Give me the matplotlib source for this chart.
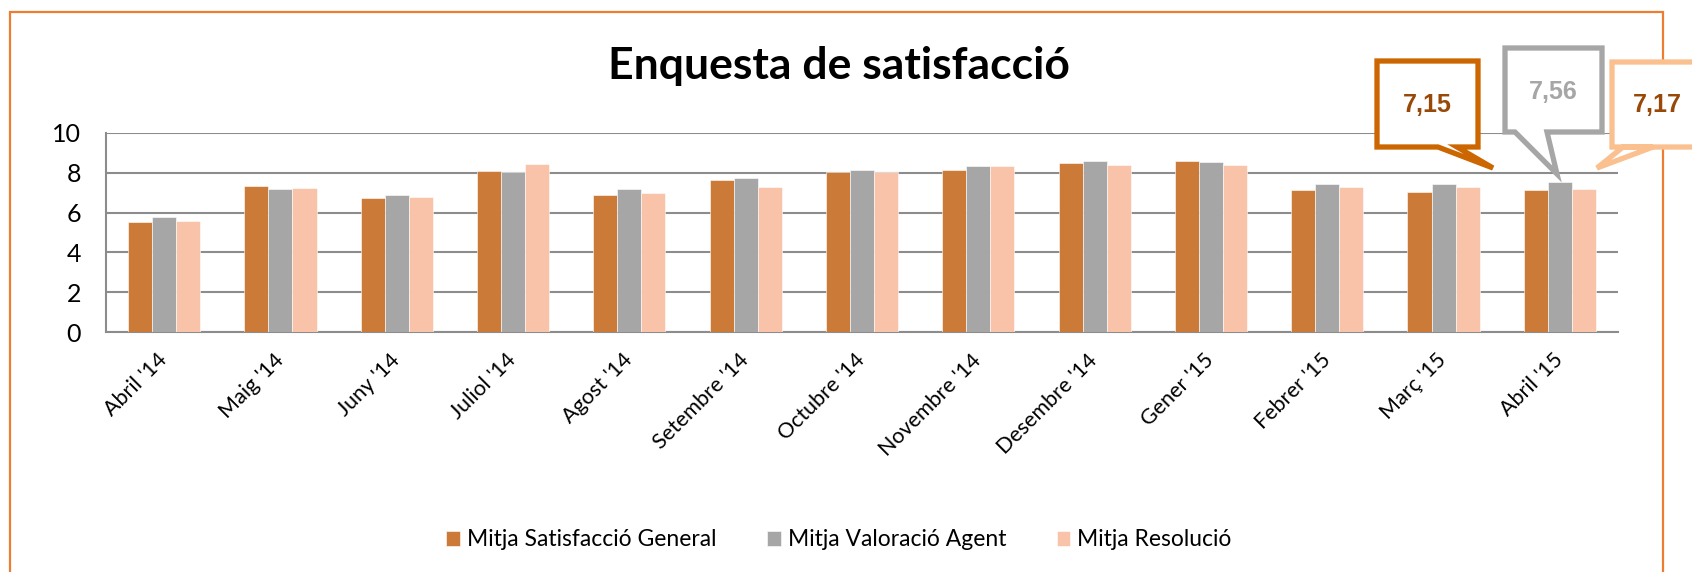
import matplotlib.pyplot as plt
import numpy as np
from matplotlib.patches import Polygon, Rectangle

# Dades
mesos = ["Abril '14", "Maig '14", "Juny '14", "Juliol '14", "Agost '14", "Setembre '14",
         "Octubre '14", "Novembre '14", "Desembre '14", "Gener '15", "Febrer '15",
         "Març '15", "Abril '15"]
satisfaccio = [5.54, 7.34, 6.72, 8.11, 6.88, 7.65, 8.06, 8.14, 8.49, 8.58, 7.12, 7.04, 7.15]
agent = [5.76, 7.19, 6.90, 8.04, 7.17, 7.76, 8.16, 8.32, 8.59, 8.56, 7.45, 7.44, 7.56]
resolucio = [5.58, 7.24, 6.80, 8.43, 6.98, 7.30, 8.06, 8.34, 8.39, 8.41, 7.27, 7.30, 7.17]
series_noms = ['Mitja Satisfacció General', 'Mitja Valoració Agent', 'Mitja Resolució']
colors = ['#CB7A38', '#A6A6A6', '#F8C3A8']

plt.rcParams['font.family'] = ['Lato', 'DejaVu Sans']

W, H = 1692, 572
fig = plt.figure(figsize=(W / 100, H / 100), dpi=100)
ax = fig.add_axes([106 / W, 1 - 332 / H, (1618 - 106) / W, (332 - 133) / H])

x = np.arange(len(mesos))
amplada = 0.207
for i, (vals, nom, col) in enumerate(zip([satisfaccio, agent, resolucio], series_noms, colors)):
    ax.bar(x + (i - 1) * amplada, vals, width=amplada, color=col, label=nom,
           edgecolor='white', linewidth=0.4, zorder=3)

ax.set_xlim(-0.5, len(mesos) - 0.5)
ax.set_ylim(0, 10)
ax.set_yticks(range(0, 11, 2))
ax.yaxis.grid(True, color='#8C8C8C', linewidth=1.5, zorder=0)
ax.set_axisbelow(True)
for s in ['top', 'right']:
    ax.spines[s].set_visible(False)
ax.spines['left'].set_color('#8C8C8C')
ax.spines['bottom'].set_color('#8C8C8C')
ax.spines['left'].set_linewidth(1.5)
ax.spines['bottom'].set_linewidth(1.5)
ax.tick_params(axis='both', length=0)
ax.tick_params(axis='y', pad=18, labelsize=18)
ax.set_xticks(x)
ax.set_xticklabels(mesos, rotation=45, ha='right', va='center', rotation_mode='anchor',
                   fontsize=15.5)
ax.tick_params(axis='x', pad=18)

# Títol
fig.text(839 / W, 1 - 79 / H, 'Enquesta de satisfacció', ha='center', va='baseline',
         fontsize=32, fontweight='bold')

# Llegenda
fig.legend(loc='center', bbox_to_anchor=(839 / W, 1 - 540 / H), ncol=3, frameon=False,
           fontsize=16.5, handlelength=0.6, handleheight=0.6, handletextpad=0.3,
           columnspacing=2.2)

# Marc exterior
fig.add_artist(Rectangle((10 / W, -0.1), (1663 - 10) / W, 1.1 - 12 / H,
                         transform=fig.transFigure, fill=False, edgecolor='#ED7D31',
                         linewidth=1.6, clip_on=False))


def bocadillo(L, R, T, B, x1, x2, tip, color):
    pts = [(L, T), (R, T), (R, B), (x2, B), tip, (x1, B), (L, B)]
    pts = [(px / W, 1 - py / H) for px, py in pts]
    fig.add_artist(Polygon(pts, closed=True, transform=fig.transFigure, facecolor='white',
                           edgecolor=color, linewidth=3.8, joinstyle='miter', clip_on=False))


bocadillo(1377, 1478, 61, 147, 1438, 1457, (1493, 168), '#CC6600')
bocadillo(1505, 1602, 48, 132, 1515, 1547, (1557, 174), '#A6A6A6')
bocadillo(1612, 1760, 62, 147, 1653, 1623, (1597, 168), '#FAC090')

etiq = lambda v: f'{v:.2f}'.replace('.', ',')
fig.text(1427 / W, 1 - 105 / H, etiq(satisfaccio[-1]), ha='center', va='center',
         fontsize=18, fontweight='bold', color='#984807', family='Liberation Sans')
fig.text(1553 / W, 1 - 92 / H, etiq(agent[-1]), ha='center', va='center',
         fontsize=18, fontweight='bold', color='#A6A6A6', family='Liberation Sans')
fig.text(1657 / W, 1 - 105 / H, etiq(resolucio[-1]), ha='center', va='center',
         fontsize=18, fontweight='bold', color='#984807', family='Liberation Sans')

fig.savefig('out.png', dpi=100)
